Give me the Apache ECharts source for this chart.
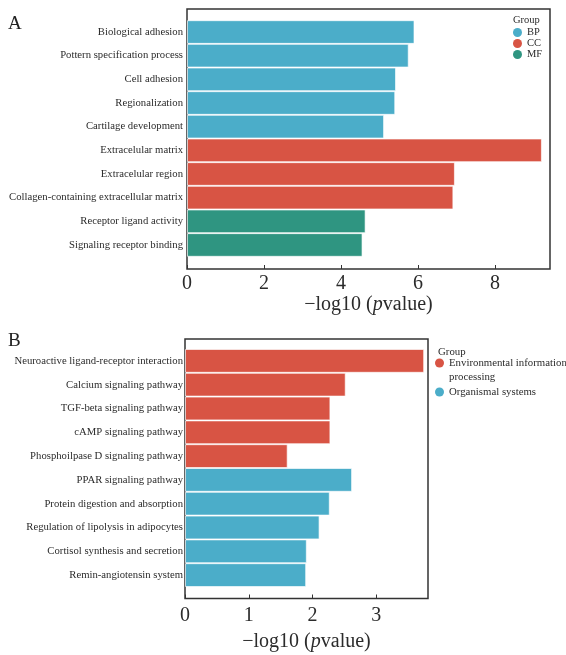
<!DOCTYPE html>
<html>
<head>
<meta charset="utf-8">
<script src="https://cdn.jsdelivr.net/npm/echarts@6/dist/echarts.min.js"></script>
<style>
  html, body { margin: 0; padding: 0; background: #fff; }
  #chart { width: 566px; height: 655px; }
</style>
</head>
<body>
<div id="chart"></div>
<script>
// panel A: GO terms
var catsA = ['Biological adhesion', 'Pottern specification process', 'Cell adhesion', 'Regionalization',
  'Cartilage development', 'Extracelular matrix', 'Extracelular region',
  'Collagen-containing extracellular matrix', 'Receptor ligand activity', 'Signaling receptor binding']
var valsA = [5.91, 5.76, 5.43, 5.41, 5.12, 9.22, 6.96, 6.92, 4.64, 4.56]
var groupOfA = ['BP', 'BP', 'BP', 'BP', 'BP', 'CC', 'CC', 'CC', 'MF', 'MF']
var groupsA = ['BP', 'CC', 'MF']

// panel B: KEGG pathways
var catsB = ['Neuroactive ligand-receptor interaction', 'Calcium signaling pathway', 'TGF-beta signaling pathway',
  'cAMP signaling pathway', 'Phosphoilpase D signaling pathway', 'PPAR signaling pathway',
  'Protein digestion and absorption', 'Regulation of lipolysis in adipocytes',
  'Cortisol synthesis and secretion', 'Remin-angiotensin system']
var valsB = [3.75, 2.52, 2.28, 2.28, 1.61, 2.62, 2.27, 2.11, 1.91, 1.90]
var groupOfB = ['Env', 'Env', 'Env', 'Env', 'Env', 'Org', 'Org', 'Org', 'Org', 'Org']
var groupsB = ['Environmental information processing', 'Organismal systems']

var BLUE = '#4badc9'
var RED = '#d85444'
var TEAL = '#2f9581'
var FONT = 'Liberation Serif'
var TXT = '#2b2b2b'

var chart = echarts.init(document.getElementById('chart'))

function groupSeries (name, color, vals, groupOf, key, axisIdx) {
  return {
    name: name,
    type: 'bar',
    stack: 'p' + axisIdx,
    xAxisIndex: axisIdx,
    yAxisIndex: axisIdx,
    barWidth: '100%',
    itemStyle: { color: color, borderColor: 'rgba(255,255,255,0.65)', borderWidth: 1 },
    emphasis: { disabled: true },
    data: vals.map(function (v, i) { return groupOf[i] === key ? v : null })
  }
}

var colorsA = [BLUE, RED, TEAL]
var series = groupsA.map(function (g, k) {
  return groupSeries(g, colorsA[k], valsA, groupOfA, g, 0)
})
series.push(groupSeries(groupsB[0], RED, valsB, groupOfB, 'Env', 1))
series.push(groupSeries(groupsB[1], BLUE, valsB, groupOfB, 'Org', 1))

function frameAxis (max, gridIdx, interval, margin, gap) {
  return {
    type: 'value', gridIndex: gridIdx, min: 0, max: max, interval: interval,
    axisLine: { show: false },
    axisTick: { show: true, inside: true, length: 4, lineStyle: { color: '#333', width: 1 } },
    splitLine: { show: false },
    axisLabel: { fontFamily: FONT, fontSize: 20, color: TXT, margin: margin, showMaxLabel: false },
    name: '\u2212log10 ({i|p}value)',
    nameLocation: 'middle',
    nameGap: gap,
    nameTextStyle: {
      fontFamily: FONT, fontSize: 20, color: TXT,
      rich: { i: { fontFamily: FONT, fontSize: 20, fontStyle: 'italic', color: TXT } }
    }
  }
}

function barXAxis (max, gridIdx) {
  return { type: 'value', gridIndex: gridIdx, min: 0, max: max, show: false }
}

function catAxis (cats, gridIdx, margin) {
  return {
    type: 'category', gridIndex: gridIdx, data: cats, inverse: true,
    axisLine: { show: false }, axisTick: { show: false },
    axisLabel: { fontFamily: FONT, fontSize: 10.7, color: TXT, margin: margin, interval: 0 }
  }
}

chart.setOption({
  animation: false,
  title: [
    { text: 'A', left: 8, top: 15, padding: 0, textStyle: { fontFamily: FONT, fontSize: 19, fontWeight: 'normal', color: '#222' } },
    { text: 'B', left: 8, top: 332, padding: 0, textStyle: { fontFamily: FONT, fontSize: 19, fontWeight: 'normal', color: '#222' } },
    { text: 'Group', left: 513, top: 15, padding: 0, textStyle: { fontFamily: FONT, fontSize: 10.5, fontWeight: 'normal', color: TXT } },
    { text: 'Group', left: 438, top: 347, padding: 0, textStyle: { fontFamily: FONT, fontSize: 10.8, fontWeight: 'normal', color: TXT } }
  ],
  legend: [
    {
      data: groupsA, orient: 'vertical', left: 513, top: 27, padding: 0,
      icon: 'circle', itemWidth: 9, itemHeight: 9, itemGap: 0,
      itemStyle: { borderWidth: 0 },
      selectedMode: false,
      textStyle: { fontFamily: FONT, fontSize: 10.5, color: TXT, lineHeight: 11 }
    },
    {
      data: groupsB,
      orient: 'vertical', left: 435, top: 342, padding: 0,
      icon: 'circle', itemWidth: 9, itemHeight: 9, itemGap: 1,
      itemStyle: { borderWidth: 0 },
      selectedMode: false,
      // blank first line keeps the dot level with the first text line
      formatter: function (n) { return n === groupsB[0] ? '\nEnvironmental information\nprocessing' : n },
      textStyle: { fontFamily: FONT, fontSize: 10.8, color: TXT, lineHeight: 14 }
    }
  ],
  grid: [
    { left: 187, top: 20.2, width: 363, height: 236.6 },
    { left: 185, top: 349, width: 243, height: 238 },
    { left: 187, top: 9, width: 363, height: 260, show: true, borderColor: '#333', borderWidth: 1.5 },
    { left: 185, top: 339, width: 243, height: 259.5, show: true, borderColor: '#333', borderWidth: 1.5 }
  ],
  xAxis: [
    barXAxis(9.43, 0),
    barXAxis(3.81, 1),
    frameAxis(9.43, 2, 2, 5, 24),
    frameAxis(3.81, 3, 1, 7, 33)
  ],
  yAxis: [
    catAxis(catsA, 0, 4),
    catAxis(catsB, 1, 2),
    { type: 'value', gridIndex: 2, show: false },
    { type: 'value', gridIndex: 3, show: false }
  ],
  series: series
})
</script>
</body>
</html>
